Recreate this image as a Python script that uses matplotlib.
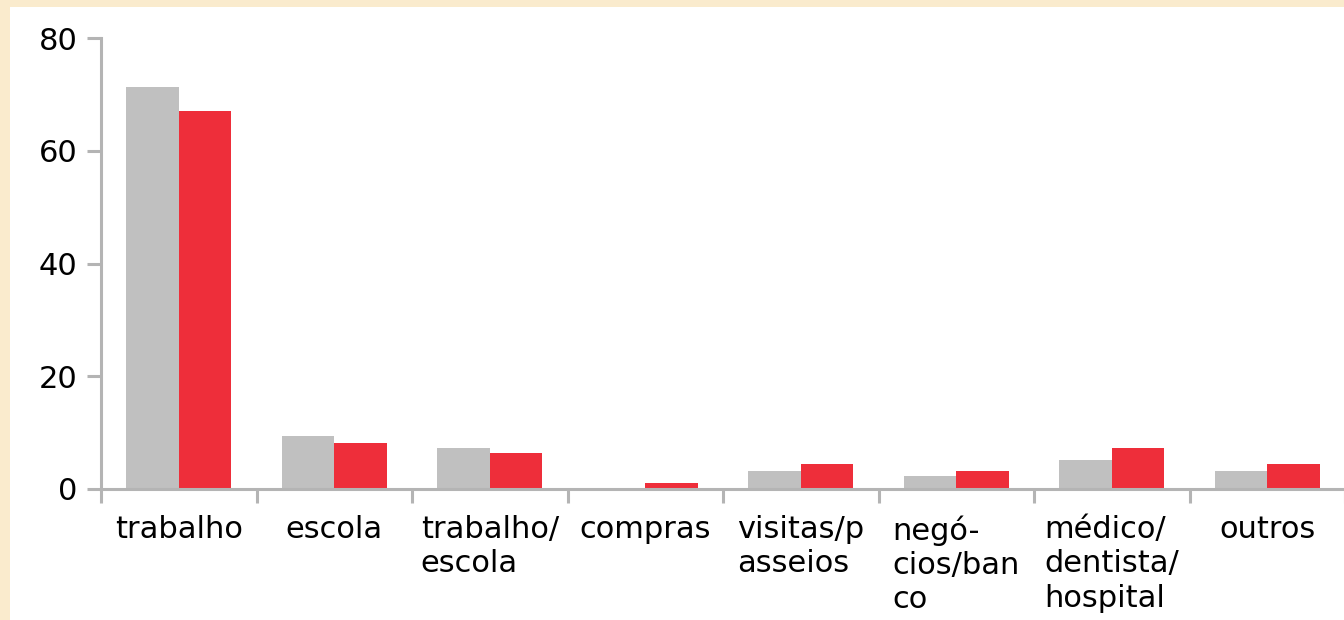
import matplotlib
matplotlib.use("Agg")
import matplotlib.pyplot as plt
from matplotlib.patches import Rectangle
import numpy as np

# Data
categories = ["trabalho", "escola", "trabalho/\nescola", "compras",
              "visitas/p\nasseios", "negó-\ncios/ban\nco",
              "médico/\ndentista/\nhospital", "outros"]
serie_cinza = [71.3, 9.4, 7.3, 0.0, 3.2, 2.3, 5.1, 3.2]
serie_vermelha = [67.0, 8.2, 6.4, 1.1, 4.4, 3.2, 7.3, 4.4]
y_ticks = [0, 20, 40, 60, 80]

GRAY = "#C0C0C0"
RED = "#EE2E3A"
AXIS = "#B4B4B4"
BG = "#FAEBCD"

plt.rcParams["font.family"] = ["DejaVu Sans"]

fig = plt.figure(figsize=(13.44, 6.2), dpi=100)
fig.patch.set_facecolor(BG)
# white panel on top of the parchment background
panel = Rectangle((10 / 1344, 0), 1 - 10 / 1344, (620 - 7) / 620,
                  transform=fig.transFigure, facecolor="white",
                  edgecolor="none", zorder=-10)
fig.add_artist(panel)

ax = fig.add_axes([101 / 1344, 131 / 620, 1244 / 1344, 451 / 620])
ax.set_facecolor("none")

x = np.arange(len(categories))
w = 0.3375
ax.bar(x - w / 2, serie_cinza, width=w, color=GRAY, zorder=2)
ax.bar(x + w / 2, serie_vermelha, width=w, color=RED, zorder=2)

ax.set_xlim(-0.5, len(categories) - 0.5)
ax.set_ylim(0, 80)
ax.set_yticks(y_ticks)

# tick marks at group boundaries, labels at group centres
ax.set_xticks(np.arange(len(categories) + 1) - 0.5)
ax.set_xticklabels([])
ax.set_xticks(x, minor=True)
ax.set_xticklabels(categories, minor=True, ha="center", multialignment="left",
                   va="top", linespacing=1.22)
ax.tick_params(axis="x", which="minor", length=0, pad=19, labelsize=22)
ax.tick_params(axis="x", which="major", length=10, width=2.2, color=AXIS,
               direction="out")
ax.tick_params(axis="y", length=10, width=2.2, color=AXIS, direction="out",
               pad=7, labelsize=22)

for side in ["top", "right"]:
    ax.spines[side].set_visible(False)
for side in ["left", "bottom"]:
    ax.spines[side].set_color(AXIS)
    ax.spines[side].set_linewidth(2.2)
    ax.spines[side].set_zorder(3)

fig.savefig("out.png", dpi=100, facecolor=fig.get_facecolor())
